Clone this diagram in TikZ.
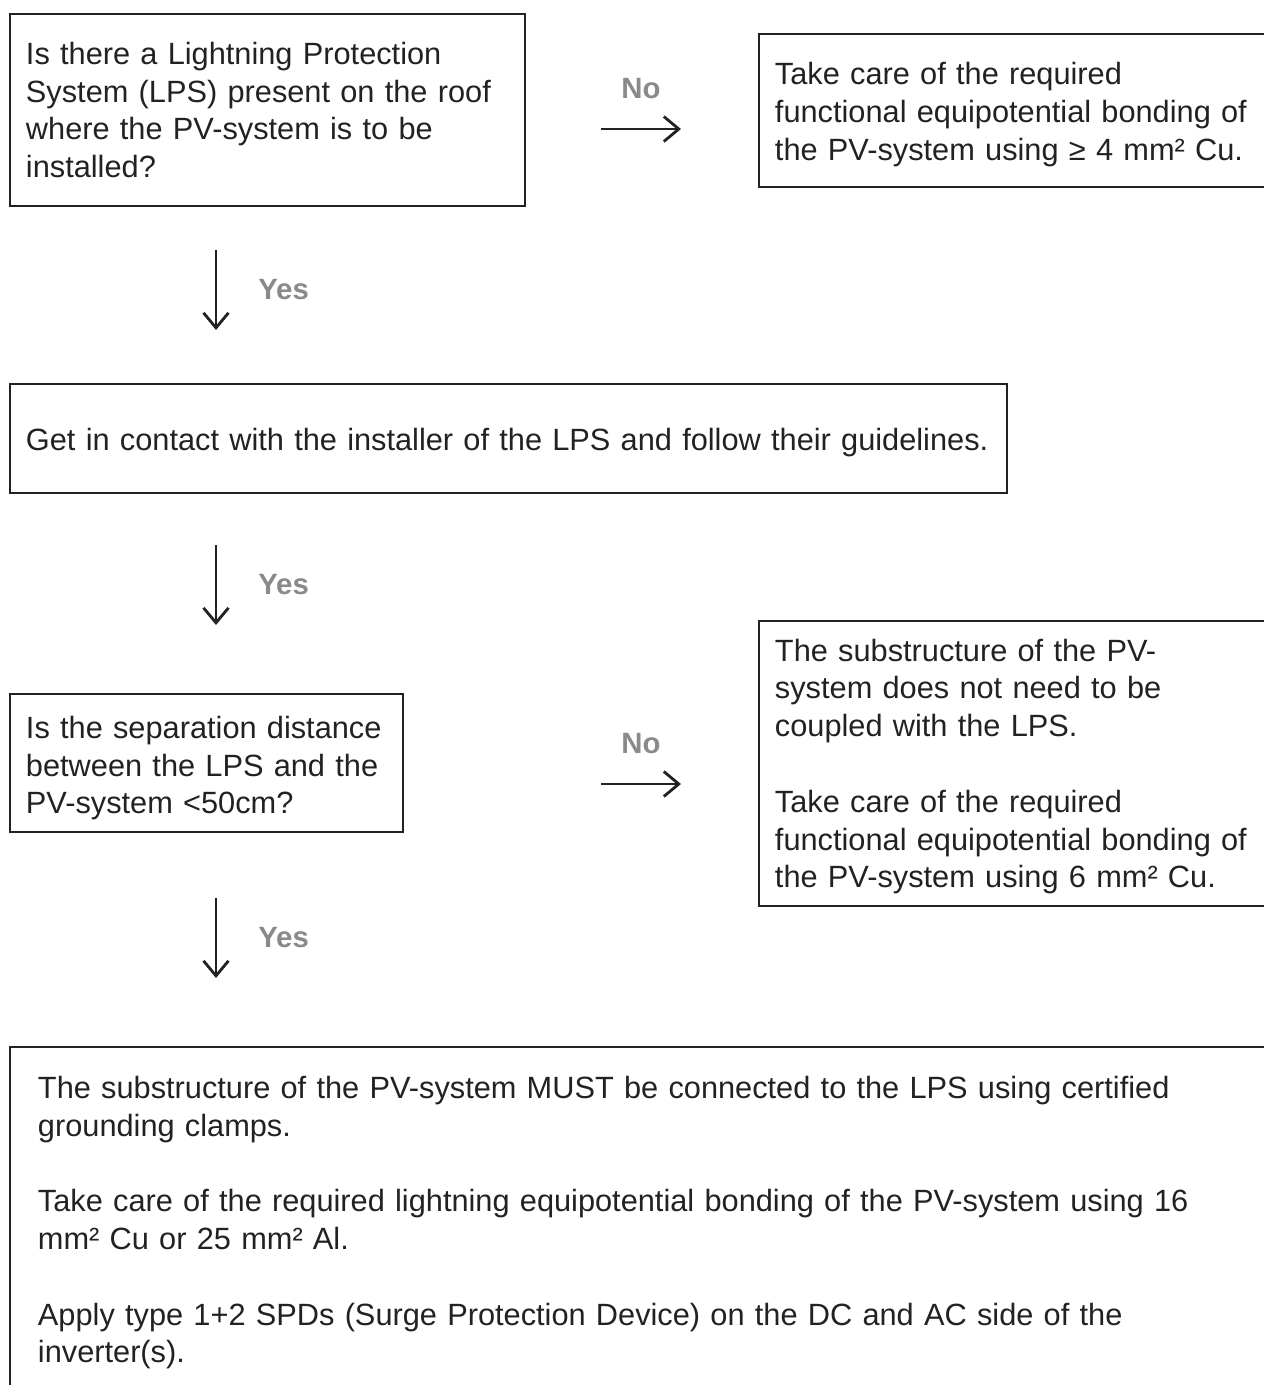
\documentclass[tikz,border=0pt]{standalone}
\usepackage{fontspec}
\setmainfont{Liberation Sans}
\usepackage{xcolor}
\usepackage{tikz}
\usetikzlibrary{arrows.meta}

\definecolor{inkgray}{RGB}{34,34,34}
\definecolor{answergray}{RGB}{138,138,138}
\newcommand{\flowfont}{\fontsize{17.5pt}{21.5pt}\selectfont\hyphenpenalty=10000\exhyphenpenalty=10000}

\begin{document}
\begin{tikzpicture}[
    stepbox/.style={rectangle, draw=inkgray, line width=1.1pt, anchor=north west, align=left,
                    inner xsep=0.32cm, inner ysep=0.2cm, font=\flowfont, text=inkgray},
    textdrop/.style={execute at begin node={\rule{0pt}{#1}}},
    answer/.style={font=\fontsize{16.7pt}{20pt}\selectfont\bfseries, text=answergray},
    flow/.style={draw=inkgray, line width=1.6pt, -{Straight Barb[length=0.3cm, width=0.5cm, line width=1.6pt]}}
]
\useasboundingbox (0,0) rectangle (25.28,-27.70);
\clip (0,0) rectangle (25.28,-27.70);

% Questions and actions
\node[stepbox, text width=9.66cm, minimum height=3.84cm] (lps) at (0.18,-0.26)
    {Is there a Lightning Protection\\System (LPS) present on the roof\\where the PV-system is to be\\installed?};
\node[stepbox, textdrop=17.3pt, text width=9.66cm, minimum height=3.06cm] (funcbond) at (15.16,-0.66)
    {Take care of the required\\functional equipotential bonding of\\the PV-system using ≥ 4 mm² Cu.};
\node[stepbox, textdrop=17.3pt, text width=19.30cm, minimum height=2.18cm] (contact) at (0.18,-7.66)
    {Get in contact with the installer of the LPS and follow their guidelines.};
\node[stepbox, textdrop=18.5pt, text width=7.22cm, minimum height=2.76cm] (distance) at (0.18,-13.86)
    {Is the separation distance\\between the LPS and the\\PV-system <50cm?};
\node[stepbox, textdrop=16.2pt, text width=9.66cm, minimum height=5.70cm] (nocouple) at (15.16,-12.40)
    {The substructure of the PV-\\system does not need to be\\coupled with the LPS.\\[21.5pt]Take care of the required\\functional equipotential bonding of\\the PV-system using 6 mm² Cu.};
\node[stepbox, textdrop=15.1pt, inner xsep=0.56cm, inner ysep=0.5cm, text width=24.40cm] (connect) at (0.18,-20.92)
    {The substructure of the PV-system MUST be connected to the LPS using certified\\grounding clamps.\\[21.5pt]Take care of the required lightning equipotential bonding of the PV-system using 16\\mm² Cu or 25 mm² Al.\\[21.5pt]Apply type 1+2 SPDs (Surge Protection Device) on the DC and AC side of the\\inverter(s).};

% Arrow ends
\coordinate (no1s) at (12.02,-2.58);  \coordinate (no1e) at (13.62,-2.58);
\coordinate (yes1s) at (4.32,-5.00);  \coordinate (yes1e) at (4.32,-6.60);
\coordinate (yes2s) at (4.32,-10.90); \coordinate (yes2e) at (4.32,-12.50);
\coordinate (no2s) at (12.02,-15.68); \coordinate (no2e) at (13.62,-15.68);
\coordinate (yes3s) at (4.32,-17.96); \coordinate (yes3e) at (4.32,-19.56);

% Arrows with answers
\draw[flow] (no1s) -- (no1e) node[answer, midway, above=0.45cm] (no1) {No};
\draw[flow] (yes1s) -- (yes1e) node[answer, midway, right=0.7cm] (yes1) {Yes};
\draw[flow] (yes2s) -- (yes2e) node[answer, midway, right=0.7cm] (yes2) {Yes};
\draw[flow] (no2s) -- (no2e) node[answer, midway, above=0.45cm] (no2) {No};
\draw[flow] (yes3s) -- (yes3e) node[answer, midway, right=0.7cm] (yes3) {Yes};
\end{tikzpicture}
\end{document}
